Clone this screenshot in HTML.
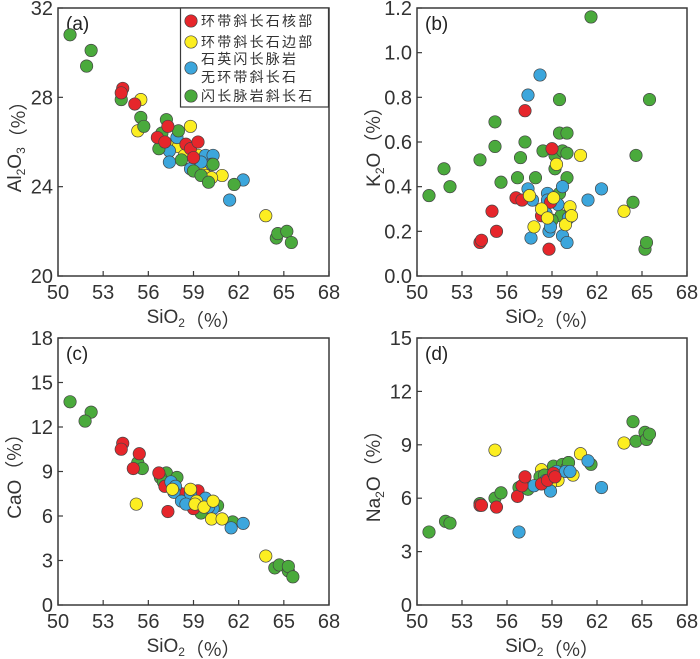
<!DOCTYPE html>
<html><head><meta charset="utf-8">
<style>
html,body{margin:0;padding:0;background:#fff;}
svg{display:block;font-family:"Liberation Sans","Noto Sans CJK SC",sans-serif;}
</style></head>
<body>
<svg id="chart" width="700" height="659" viewBox="0 0 700 659" xmlns="http://www.w3.org/2000/svg"></svg>
<script>
const xTicks=[50,53,56,59,62,65,68];
const groupNames=["环带斜长石核部","环带斜长石边部","石英闪长脉岩","无环带斜长石","闪长脉岩斜长石"];
// panel a: Al2O3
const aRedX=[54.3,54.2,55.1,57.3,56.6,57.1,58.5,58.8,59.3,59.0];
const aRedY=[28.4,28.2,27.7,26.7,26.2,26.0,25.9,25.7,26.0,25.3];
const aYelX=[55.5,55.3,58.8,57.6,58.0,58.4,59.3,59.1,59.6,59.8,60.9,63.8,60.2];
const aYelY=[27.9,26.5,26.7,25.8,25.8,25.4,25.4,25.0,24.8,24.5,24.5,22.7,24.4];
const aBluX=[57.9,57.4,57.4,58.8,59.8,60.3,60.2,62.3,61.4,59.5];
const aBluY=[26.2,25.6,25.1,24.8,25.4,25.4,25.0,24.3,23.4,25.1];
const aGrnX=[50.8,52.2,51.9,54.2,55.5,55.7,57.2,58.0,56.9,56.7,58.2,59.0,59.5,60.0,61.7,64.5,64.6,65.2,65.5,60.3];
const aGrnY=[30.8,30.1,29.4,27.9,27.1,26.7,27.0,26.5,26.4,25.7,25.2,24.7,24.5,24.2,24.1,21.7,21.9,22.0,21.5,25.0];
const aYTicks=[20,24,28,32];
// panel b: K2O
const bGrnX=[50.8,51.8,52.2,54.2,55.2,55.2,55.6,56.7,56.9,57.2,57.9,58.4,59.1,59.2,59.2,59.5,59.5,60.0,59.7,60.0,60.0,59.5,59.6,59.0,61.6,64.4,64.6,65.2,65.3,65.5];
const bGrnY=[0.36,0.48,0.40,0.52,0.69,0.58,0.42,0.44,0.53,0.60,0.44,0.56,0.56,0.54,0.48,0.79,0.64,0.64,0.56,0.55,0.44,0.37,0.27,0.25,1.16,0.33,0.54,0.12,0.15,0.79];
const bBluX=[58.2,57.4,57.4,57.7,58.7,58.7,59.4,59.7,58.6,58.8,58.9,59.7,60.0,57.6,61.4,62.3,60.1];
const bBluY=[0.90,0.81,0.39,0.34,0.37,0.34,0.32,0.40,0.28,0.20,0.22,0.18,0.15,0.17,0.34,0.39,0.26];
const bRedX=[57.2,59.0,56.6,57.0,55.0,55.3,54.2,54.3,58.3,58.9,58.8];
const bRedY=[0.74,0.57,0.35,0.34,0.29,0.20,0.15,0.16,0.27,0.33,0.12];
const bYelX=[57.5,59.3,60.9,58.3,57.8,58.7,59.9,60.2,60.3,63.8,59.1];
const bYelY=[0.36,0.50,0.54,0.30,0.22,0.26,0.23,0.31,0.27,0.29,0.35];
const bYTicks=[0.0,0.2,0.4,0.6,0.8,1.0,1.2];
// panel c: CaO
const cGrnX=[50.8,52.2,51.8,55.3,55.6,57.2,57.9,56.8,57.0,59.5,60.6,61.6,64.4,64.7,65.3,65.3,65.6];
const cGrnY=[13.7,13.0,12.4,9.6,9.2,8.9,8.6,8.6,8.3,6.2,6.7,5.6,2.5,2.7,2.3,2.6,1.9];
const cRedX=[54.3,54.2,55.4,55.0,56.7,57.1,57.3,58.2,59.3,59.0];
const cRedY=[10.9,10.5,10.2,9.2,8.9,8.0,6.3,7.5,7.7,6.5];
const cYelX=[55.2,58.8,59.2,59.1,59.7,60.3,60.2,60.9,63.8,57.6];
const cYelY=[6.8,7.8,7.0,6.8,6.6,7.0,5.8,5.8,3.3,7.8];
const cBluX=[57.5,57.8,57.7,58.2,58.8,59.8,60.3,60.0,61.5,62.3,58.5];
const cBluY=[8.3,8.0,7.6,7.0,7.5,7.2,6.5,6.6,5.2,5.5,6.8];
const cYTicks=[0,3,6,9,12,15,18];
// panel d: Na2O
const dGrnX=[50.8,51.9,52.2,54.2,55.2,55.6,56.8,57.0,57.4,58.2,58.5,59.1,59.7,60.0,60.1,61.6,64.4,64.6,65.2,65.3,65.5];
const dGrnY=[4.1,4.7,4.6,5.7,6.0,6.3,6.6,6.7,6.5,7.2,7.3,7.8,7.9,7.7,8.0,7.9,10.3,9.2,9.7,9.3,9.6];
const dYelX=[55.2,58.3,59.4,60.1,60.4,60.9,63.8,58.9];
const dYelY=[8.7,7.6,7.0,8.0,7.3,8.5,9.1,6.8];
const dBluX=[56.8,57.8,58.9,59.3,59.9,60.2,61.4,62.3,58.6];
const dBluY=[4.1,6.7,6.4,7.5,7.5,7.5,8.1,6.6,7.0];
const dRedX=[54.2,54.3,55.3,56.7,57.0,57.2,58.3,58.7,59.1,59.2];
const dRedY=[5.6,5.6,5.5,6.1,6.7,7.2,6.8,7.0,7.4,7.2];
const dYTicks=[0,3,6,9,12,15];

const COL={red:"#e6262b",yel:"#fcee21",blu:"#3ca6dc",grn:"#4aaa3c"};
const NS="http://www.w3.org/2000/svg";
const svg=document.getElementById("chart");
function mk(tag,attrs,parent){const e=document.createElementNS(NS,tag);for(const k in attrs)e.setAttribute(k,attrs[k]);(parent||svg).appendChild(e);return e;}
const PCT='<tspan font-family="Noto Sans CJK SC, sans-serif">（%）</tspan>';

function panel(id,box,yMin,yMax,yTicks,yFmt,label,ytitleHTML,series){
  const g=mk("g",{});
  
  
  const sx=v=>box.l+(v-50)/18*(box.r-box.l);
  const sy=v=>box.b-(v-yMin)/(yMax-yMin)*(box.b-box.t);
  const fr=mk("rect",{x:box.l,y:box.t,width:box.r-box.l,height:box.b-box.t,fill:"none",stroke:"#3a3a3a","stroke-width":1.5},g);
  
  
  xTicks.forEach(t=>{
    const x=sx(t);
    mk("line",{x1:x,x2:x,y1:box.b,y2:box.b-5,stroke:"#3a3a3a","stroke-width":1.2},g);
    const tx=mk("text",{x:x,y:box.b+23,"text-anchor":"middle","font-size":20,fill:"#333"},g);
    tx.textContent=t;
    
    
  });
  yTicks.forEach(t=>{
    const y=sy(t);
    mk("line",{x1:box.l,x2:box.l+5,y1:y,y2:y,stroke:"#3a3a3a","stroke-width":1.2},g);
    const tx=mk("text",{x:box.l-5,y:y+7,"text-anchor":"end","font-size":20,fill:"#333"},g);
    tx.textContent=yFmt(t);
    
    
  });
  const xt=mk("text",{x:(box.l+box.r)/2,y:box.b+47,"text-anchor":"middle","font-size":19,fill:"#333"},g);
  xt.innerHTML='SiO<tspan font-size="12" dy="4">2</tspan><tspan dy="-4"></tspan>'+PCT;
  
  
  const cy=(box.t+box.b)/2;
  const yt=mk("text",{x:0,y:0,"text-anchor":"middle","font-size":19,fill:"#333",transform:`translate(${box.l-37},${cy}) rotate(-90)`},g);
  yt.innerHTML=ytitleHTML+PCT;
  
  
  const pl=mk("text",{x:box.l+8,y:box.t+22,"font-size":19,fill:"#222"},g);
  pl.textContent=label;
  
  
  series.forEach(s=>{
    s.xs.forEach((xv,i)=>{
      const c=mk("circle",{cx:sx(xv),cy:sy(s.ys[i]),r:6.2,fill:s.c,stroke:"#444","stroke-width":0.7},g);
      
      
    });
  });
}
panel("panel-a-al2o3",{l:58,r:329,t:8,b:276},20,32,aYTicks,t=>String(t),"(a)",
 'Al<tspan font-size="12" dy="4">2</tspan><tspan dy="-4">O</tspan><tspan font-size="12" dy="4">3</tspan><tspan dy="-4"></tspan>',
 [{xs:aYelX,ys:aYelY,c:COL.yel,n:"rim"},{xs:aBluX,ys:aBluY,c:COL.blu,n:"unzoned"},{xs:aGrnX,ys:aGrnY,c:COL.grn,n:"diorite-vein"},{xs:aRedX,ys:aRedY,c:COL.red,n:"core"}]);
panel("panel-b-k2o",{l:417,r:687,t:8,b:276},0,1.2,bYTicks,t=>t.toFixed(1),"(b)",
 'K<tspan font-size="12" dy="4">2</tspan><tspan dy="-4">O</tspan>',
 [{xs:bGrnX,ys:bGrnY,c:COL.grn,n:"diorite-vein"},{xs:bBluX,ys:bBluY,c:COL.blu,n:"unzoned"},{xs:bRedX,ys:bRedY,c:COL.red,n:"core"},{xs:bYelX,ys:bYelY,c:COL.yel,n:"rim"}]);
panel("panel-c-cao",{l:58,r:329,t:338,b:605},0,18,cYTicks,t=>String(t),"(c)",
 'CaO',
 [{xs:cGrnX,ys:cGrnY,c:COL.grn,n:"diorite-vein"},{xs:cRedX,ys:cRedY,c:COL.red,n:"core"},{xs:cBluX,ys:cBluY,c:COL.blu,n:"unzoned"},{xs:cYelX,ys:cYelY,c:COL.yel,n:"rim"}]);
panel("panel-d-na2o",{l:417,r:687,t:338,b:605},0,15,dYTicks,t=>String(t),"(d)",
 'Na<tspan font-size="12" dy="4">2</tspan><tspan dy="-4">O</tspan>',
 [{xs:dYelX,ys:dYelY,c:COL.yel,n:"rim"},{xs:dGrnX,ys:dGrnY,c:COL.grn,n:"diorite-vein"},{xs:dBluX,ys:dBluY,c:COL.blu,n:"unzoned"},{xs:dRedX,ys:dRedY,c:COL.red,n:"core"}]);

// legend
const lg=mk("g",{});


mk("rect",{x:180.5,y:8,width:148,height:99,fill:"#fff",stroke:"#3a3a3a","stroke-width":1.2},lg);
const entries=[{c:COL.red,y:21,t:[groupNames[0]]},{c:COL.yel,y:42,t:[groupNames[1]]},{c:COL.blu,y:68,t:[groupNames[2],groupNames[3]]},{c:COL.grn,y:96,t:[groupNames[4]]}];
entries.forEach(e=>{
  const c=mk("circle",{cx:191,cy:e.y,r:6.2,fill:e.c,stroke:"#444","stroke-width":0.7},lg);
  
  
  e.t.forEach((s,i)=>{
    const ty=e.t.length===2?e.y-4+i*18:e.y+5;
    const tx=mk("text",{x:201,y:ty,"font-size":14,fill:"#333","letter-spacing":"2.2"},lg);
    tx.textContent=s;
    
    
  });
});
</script>
</body></html>
